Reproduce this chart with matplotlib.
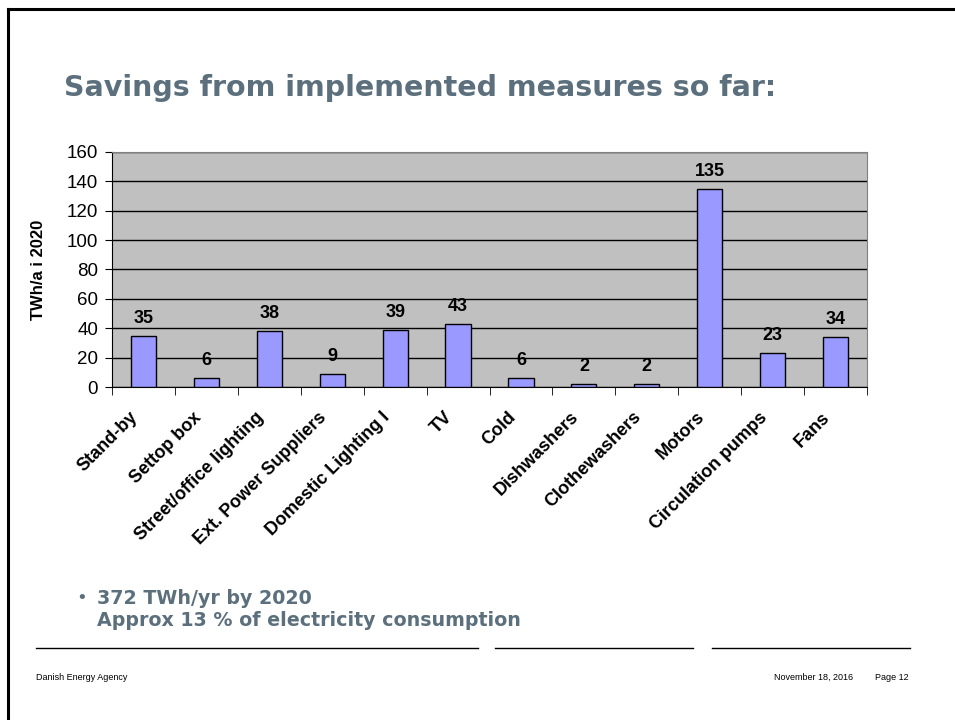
import matplotlib.pyplot as plt
import matplotlib.transforms as mtransforms
import numpy as np

categories = ['Stand-by', 'Settop box', 'Street/office lighting', 'Ext. Power Suppliers',
              'Domestic Lighting I', 'TV', 'Cold', 'Dishwashers', 'Clothewashers',
              'Motors', 'Circulation pumps', 'Fans']
values = [35, 6, 38, 9, 39, 43, 6, 2, 2, 135, 23, 34]
labels = ['35', '6', '38', '9', '39', '43', '6', '2', '2', '135', '23', '34']

plt.rcParams['font.family'] = ['Liberation Sans', 'DejaVu Sans']

fig = plt.figure(figsize=(9.55, 7.2), dpi=100)
W, H = 955, 720

# slide frame (top and left edges)
fig.add_artist(plt.Line2D([8 / W, 1], [1 - 9 / H, 1 - 9 / H], color='black', lw=2.2))
fig.add_artist(plt.Line2D([8 / W, 8 / W], [0, 1 - 9 / H], color='black', lw=2.2))

title_col = '#5b6f7c'
fig.text(64 / W, 1 - 88 / H, 'Savings from implemented measures so far:', fontsize=20.5,
         fontweight='bold', color=title_col, family='DejaVu Sans', va='center')

ax = fig.add_axes([112 / W, 1 - 387 / H, (867 - 112) / W, (387 - 152) / H])
ax.set_facecolor('#c0c0c0')
x = np.arange(len(categories))
ax.bar(x, values, width=0.4, color='#9999ff', edgecolor='black', linewidth=1, zorder=3)
ax.set_xlim(-0.5, len(categories) - 0.5)
ax.set_ylim(0, 160)
ax.set_yticks(range(0, 161, 20))
ax.yaxis.grid(True, color='black', linewidth=1, zorder=1)
ax.set_axisbelow(True)
for s in ['top', 'right']:
    ax.spines[s].set_color('#808080')
ax.spines['left'].set_color('black')
ax.spines['bottom'].set_color('black')

for xi, v, t in zip(x, values, labels):
    ax.text(xi, v + 6, t, ha='center', va='bottom', fontsize=13, fontweight='bold')

ax.set_xticks(x)
ax.set_xticklabels(categories, rotation=45, ha='right', va='center', rotation_mode='anchor',
                   fontsize=13, fontweight='bold')
ax.tick_params(axis='x', which='major', length=0, pad=20)
shift = mtransforms.ScaledTranslation(-0.08, 0, fig.dpi_scale_trans)
for lab in ax.get_xticklabels():
    lab.set_transform(lab.get_transform() + shift)
ax.set_xticks(np.arange(-0.5, len(categories)), minor=True)
ax.tick_params(axis='x', which='minor', length=6, direction='out')
ax.tick_params(axis='y', length=5, direction='out', labelsize=13.5, pad=5)
ax.set_ylabel('TWh/a i 2020', fontsize=12, fontweight='bold', labelpad=15)

fig.text(76 / W, 1 - 598 / H, '•', fontsize=13, color=title_col, va='center',
         family='DejaVu Sans')
fig.text(97 / W, 1 - 598 / H, '372 TWh/yr by 2020', fontsize=13.7, fontweight='bold',
         color=title_col, va='center', family='DejaVu Sans')
fig.text(97 / W, 1 - 620 / H, 'Approx 13 % of electricity consumption', fontsize=13.7,
         fontweight='bold', color=title_col, va='center', family='DejaVu Sans')

for x0, x1 in [(36, 478), (495, 693), (712, 910)]:
    fig.add_artist(plt.Line2D([x0 / W, x1 / W], [1 - 648 / H, 1 - 648 / H],
                              color='black', lw=1))

fig.text(36 / W, 1 - 677 / H, 'Danish Energy Agency', fontsize=6.5, va='center')
fig.text(774 / W, 1 - 677 / H, 'November 18, 2016', fontsize=6.5, va='center')
fig.text(875 / W, 1 - 677 / H, 'Page 12', fontsize=6.5, va='center')

fig.savefig('out.png', dpi=100)
